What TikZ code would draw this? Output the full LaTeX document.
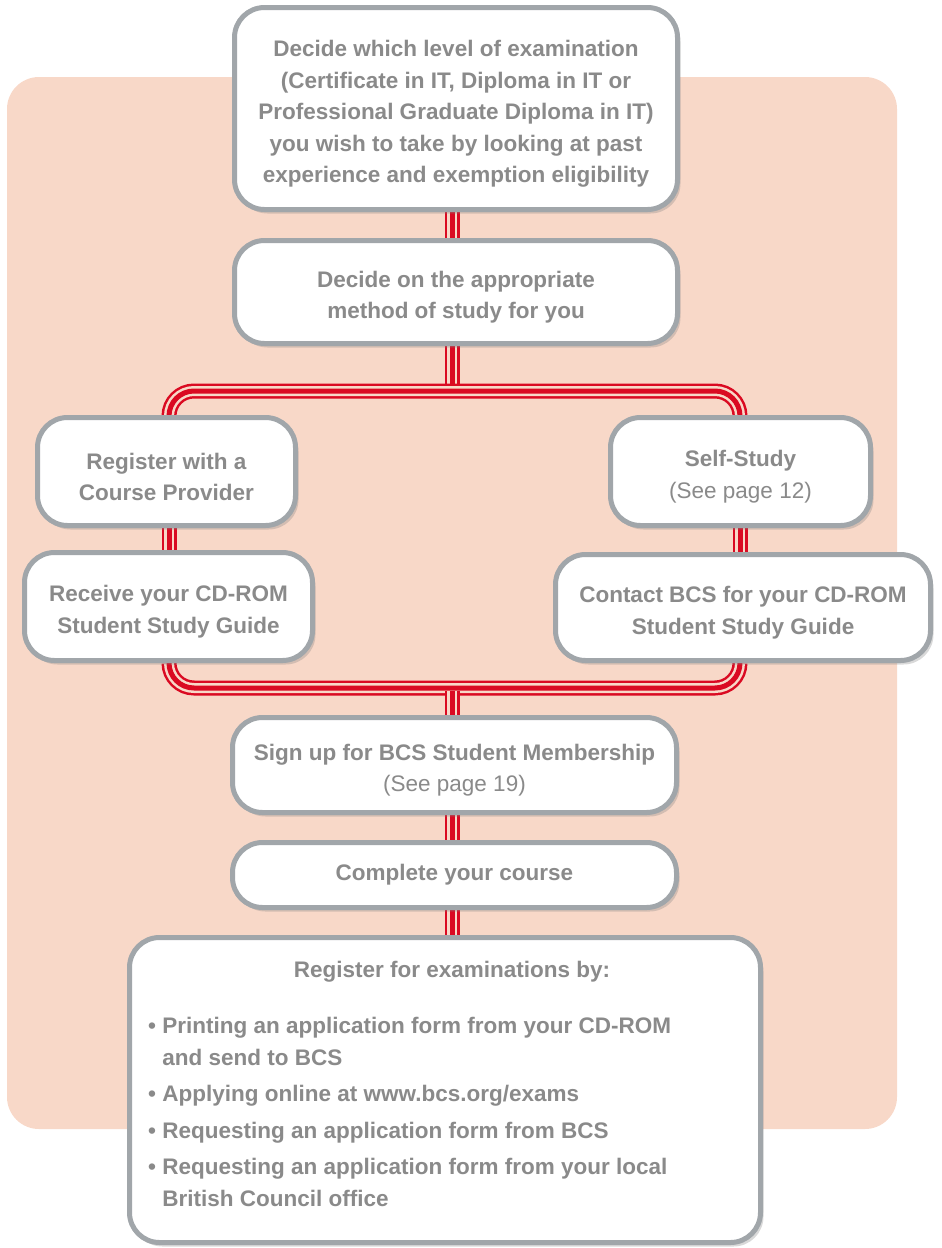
\documentclass[tikz,border=0pt]{standalone}
\usepackage{fontspec}
\setmainfont{Liberation Sans}
\usetikzlibrary{shadows}
\definecolor{peach}{HTML}{F8D8C8}
\definecolor{boxgray}{HTML}{A1A6AA}
\definecolor{railred}{HTML}{DA0A22}
\definecolor{txtgray}{HTML}{8A8A8A}
\pgfdeclarelayer{bglayer}
\pgfdeclarelayer{raillayer}
\pgfsetlayers{bglayer,raillayer,main}
\newcommand{\toppad}{\rule{0pt}{27pt}}
\begin{document}
\begin{tikzpicture}[x=1pt,y=-1pt,
  stepbox/.style={draw=boxgray, line width=5pt, fill=white, rounded corners=30pt,
    align=center, text=txtgray, font=\fontsize{22.5}{31.5}\selectfont\bfseries, inner sep=0pt,
    drop shadow={shadow xshift=3pt, shadow yshift=-4pt, opacity=0.3}},
  txt/.style={text=txtgray, font=\fontsize{22.5}{31.5}\selectfont\bfseries, inner sep=0pt},
  rail/.style={draw=railred, line width=15pt, rounded corners=25pt,
    postaction={draw=peach, line width=10pt},
    postaction={draw=railred, line width=5pt}}]
\useasboundingbox (0,0) rectangle (942,1248);

\begin{pgfonlayer}{bglayer}
  \fill[peach, rounded corners=32pt] (7,77) rectangle (897,1129);
\end{pgfonlayer}

\coordinate (cx) at (452,0);
\coordinate (lx) at (169,0);
\coordinate (rx) at (740,0);
\coordinate (j1) at (452,391);
\coordinate (j2) at (452,688);

\node[stepbox, minimum width=443pt, minimum height=202pt] (top) at (456,108.5)
  {\toppad Decide which level of examination\\(Certificate in IT, Diploma in IT or\\Professional Graduate Diploma in IT)\\you wish to take by looking at past\\experience and exemption eligibility};
\node[stepbox, minimum width=443pt, minimum height=103pt] (meth) at (456,292)
  {\toppad Decide on the appropriate\\method of study for you};
\node[stepbox, minimum width=258pt, minimum height=108pt] (reg) at (166.5,471.5)
  {\toppad Register with a\\Course Provider};
\node[stepbox, minimum width=260pt, minimum height=108pt] (self) at (740.5,471.5)
  {\toppad Self-Study\\{\mdseries (See page 12)}};
\node[stepbox, minimum width=288pt, minimum height=108pt] (rec) at (168.5,606.5)
  {\toppad Receive your CD-ROM\\Student Study Guide};
\node[stepbox, minimum width=375pt, minimum height=106pt] (con) at (743,607.5)
  {\toppad Contact BCS for your CD-ROM\\Student Study Guide};
\node[stepbox, minimum width=444pt, minimum height=95pt] (sign) at (454.5,765)
  {\toppad Sign up for BCS Student Membership\\{\mdseries (See page 19)}};
\node[stepbox, minimum width=444pt, minimum height=65pt] (comp) at (454.5,875)
  {Complete your course};
\node[stepbox, minimum width=631pt, minimum height=305pt] (bot) at (445,1090) {};
\node[txt] (bottitle) at (452,972) {Register for examinations by:};
\node[txt, anchor=north west, align=left] (botlist) at (148,1017)
  {\textbullet\ Printing an application form from your CD-ROM\\
   \phantom{\textbullet\ }and send to BCS\\[5pt]
   \textbullet\ Applying online at www.bcs.org/exams\\[5pt]
   \textbullet\ Requesting an application form from BCS\\[5pt]
   \textbullet\ Requesting an application form from your local\\
   \phantom{\textbullet\ }British Council office};

\begin{pgfonlayer}{raillayer}
  \draw[rail] (top.south -| cx) -- (meth.north -| cx);
  \draw[rail] (meth.south -| cx) -- ([yshift=2.5pt]j1);
  \draw[rail] (reg.north -| lx) -- (lx |- j1) -- (rx |- j1) -- (self.north -| rx);
  \draw[rail] (reg.south -| lx) -- (rec.north -| lx);
  \draw[rail] (self.south -| rx) -- (con.north -| rx);
  \draw[rail] (rec.south -| lx) -- (lx |- j2) -- (rx |- j2) -- (con.south -| rx);
  \draw[rail] ([yshift=-2.5pt]j2) -- (sign.north -| cx);
  \draw[rail] (sign.south -| cx) -- (comp.north -| cx);
  \draw[rail] (comp.south -| cx) -- (bot.north -| cx);
\end{pgfonlayer}
\end{tikzpicture}
\end{document}
